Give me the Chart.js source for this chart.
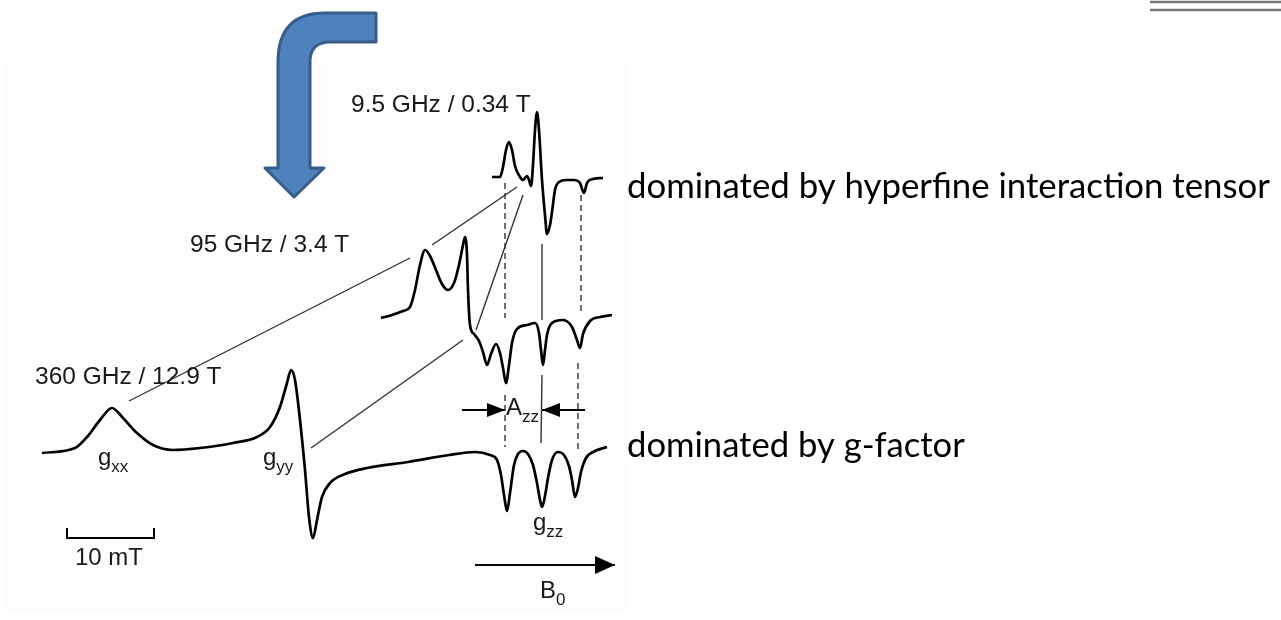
<!DOCTYPE html>
<html><head><meta charset="utf-8">
<script src="https://cdn.jsdelivr.net/npm/chart.js@4/dist/chart.umd.min.js"></script>
<style>html,body{margin:0;padding:0;background:#fff;overflow:hidden}canvas{display:block}</style>
</head><body>
<canvas id="c" width="1281" height="620"></canvas>
<script>
// ---- spectra (field position, signal position) ----
const field360 = [42,75,87,100,112,123,137,153,173,200,233,257,270,280,287,291,295,300,305,309,313,317,322,330,345,367,408,449,475,490,497,501,504,507,510,514,518,523,528,533,537,540,542,545,548,552,558,564,569,572,575,578,581,586,593,607];
const signal360 = [453,448,437,420,408,418,433,445,450,448,443,437,427,407,383,370,380,420,470,517,538,520,497,483,474,468,462,455,452,455,460,475,495,511,493,465,454,451,454,465,483,500,507,496,478,460,452,455,466,480,497,488,472,458,452,447];

const field95 = [381,392,403,410,415,420,425,430,436,442,448,454,459,463,465,467,468,470,474,479,483,487,491,496,500,503,506,509,512,517,527,535,539,541,543,545,547,552,563,572,577,580,583,590,600,612];
const signal95 = [318,315,311,307,290,265,250,256,270,284,290,283,265,245,237,255,290,325,334,341,352,365,354,344,353,368,383,365,343,329,325,323,333,350,365,350,335,323,320,327,340,348,334,321,317,315];

const field9 = [492,500,503,506,509,512,515,520,523,527,529,531,533,535,537,539,542,545,547,550,552,555,559,566,574,580,584,587,593,603];
const signal9 = [177,177,167,150,142,150,166,177,180,176,180,186,165,130,112,130,180,215,234,225,212,190,182,180,180,183,193,183,179,178];

// ---- guide lines (pairs of points) ----
const connectorX = [[129,410],[432,517],[476,523],[311,463]];
const connectorY = [[401,258],[245,187],[330,195],[448,340]];
const dashedX = [[505,505],[505,505],[581,581],[578,578]];
const dashedY = [[183,318],[395,447],[195,315],[363,452]];
const solidX = [[542,542],[542,541]];
const solidY = [[244,320],[375,443]];
const arrowX = [[462,505],[585,542],[475,615]];
const arrowY = [[410,410],[410,410],[565,565]];
const scaleBarX = [67,67,154,154];
const scaleBarY = [528,538,538,528];

// ---- texts ----
const freqLabels = ['9.5 GHz / 0.34 T','95 GHz / 3.4 T','360 GHz / 12.9 T'];
const axisLabels = [['g','xx'],['g','yy'],['g','zz'],['A','zz'],['B','0'],['10 mT','']];
const notes = ['dominated by hyperfine interaction tensor','dominated by g-factor'];

// ---- layout (chart units) ----
const layout = {
  freqPos: [[351,112],[190,252],[35,384]],
  axisPos: [[98,465],[263,465],[533,530],[506,415],[540,598],[75,565]],
  notePos: [[627,198],[627,457]],
  noteWidth: [643,338],
  panel: [5,58,628,612],
  bentArrow: [['M',376,13],['L',376,42],['L',330,42],['Q',310,42,310,62],['L',310,168],['L',324,168],['L',294,197],['L',265,168],['L',278,168],['L',278,62],['Q',278,13,325,13],['Z']],
  heads: [[18,7],[18,7],[20,9]],
  corner: [[1150,2,1281,2],[1150,10,1281,10]]
};

const pts = (xs, ys) => xs.map((v,i)=>({x:v,y:ys[i]}));
const datasets = [];
const spec = {borderColor:'#000',borderWidth:2.7,pointRadius:0,showLine:true,cubicInterpolationMode:'monotone',fill:false};
datasets.push({...spec,label:'9.5 GHz',data:pts(field9,signal9)});
datasets.push({...spec,label:'95 GHz',data:pts(field95,signal95)});
datasets.push({...spec,label:'360 GHz',data:pts(field360,signal360)});
const thin = {borderColor:'#333',borderWidth:1.4,pointRadius:0,showLine:true,tension:0,fill:false};
connectorX.forEach((xs,i)=>datasets.push({...thin,label:'conn'+i,data:pts(xs,connectorY[i])}));
dashedX.forEach((xs,i)=>datasets.push({...thin,borderDash:[6,4],label:'dash'+i,data:pts(xs,dashedY[i])}));
solidX.forEach((xs,i)=>datasets.push({...thin,label:'solid'+i,data:pts(xs,solidY[i])}));
arrowX.forEach((xs,i)=>datasets.push({...thin,borderColor:'#000',borderWidth:2,label:'arrow'+i,data:pts(xs,arrowY[i])}));
datasets.push({...thin,borderColor:'#000',borderWidth:2,label:'scale',data:pts(scaleBarX,scaleBarY)});

const overlay = {
  id:'overlay',
  beforeDraw(chart){
    const {ctx, scales:{x,y}} = chart;
    ctx.save();
    ctx.fillStyle='#fff'; ctx.fillRect(0,0,chart.width,chart.height);
    const p = layout.panel;
    ctx.fillStyle='#fdfdfd';
    ctx.fillRect(x.getPixelForValue(p[0]),y.getPixelForValue(p[1]),x.getPixelForValue(p[2])-x.getPixelForValue(p[0]),y.getPixelForValue(p[3])-y.getPixelForValue(p[1]));
    ctx.strokeStyle='#777'; ctx.lineWidth=2.5;
    layout.corner.forEach(c=>{ctx.beginPath();ctx.moveTo(x.getPixelForValue(c[0]),y.getPixelForValue(c[1]));ctx.lineTo(x.getPixelForValue(c[2]),y.getPixelForValue(c[3]));ctx.stroke();});
    ctx.restore();
  },
  afterDatasetsDraw(chart){
    const {ctx, scales:{x,y}} = chart;
    const X = v=>x.getPixelForValue(v), Y = v=>y.getPixelForValue(v);
    ctx.save();
    arrowX.forEach((xs,i)=>{
      const x0=X(xs[0]),y0=Y(arrowY[i][0]),x1=X(xs[1]),y1=Y(arrowY[i][1]);
      const a=Math.atan2(y1-y0,x1-x0), [L,W]=layout.heads[i];
      ctx.fillStyle='#000';
      ctx.beginPath();
      ctx.moveTo(x1,y1);
      ctx.lineTo(x1-L*Math.cos(a)+W*Math.sin(a), y1-L*Math.sin(a)-W*Math.cos(a));
      ctx.lineTo(x1-L*Math.cos(a)-W*Math.sin(a), y1-L*Math.sin(a)+W*Math.cos(a));
      ctx.closePath(); ctx.fill();
    });
    ctx.beginPath();
    layout.bentArrow.forEach(c=>{
      if(c[0]==='M') ctx.moveTo(X(c[1]),Y(c[2]));
      else if(c[0]==='L') ctx.lineTo(X(c[1]),Y(c[2]));
      else if(c[0]==='Q') ctx.quadraticCurveTo(X(c[1]),Y(c[2]),X(c[3]),Y(c[4]));
      else ctx.closePath();
    });
    ctx.fillStyle='#4f81bd'; ctx.fill();
    ctx.strokeStyle='#385d8a'; ctx.lineWidth=3; ctx.lineJoin='round'; ctx.stroke();
    ctx.fillStyle='#1a1a1a'; ctx.textBaseline='alphabetic'; ctx.textAlign='left';
    ctx.font='24.5px "Liberation Sans", Arial, sans-serif';
    freqLabels.forEach((t,i)=>ctx.fillText(t,X(layout.freqPos[i][0]),Y(layout.freqPos[i][1])));
    axisLabels.forEach((t,i)=>{
      const [px,py]=layout.axisPos[i];
      ctx.font='24px "Liberation Sans", Arial, sans-serif';
      ctx.fillText(t[0],X(px),Y(py));
      const w=ctx.measureText(t[0]).width;
      if(t[1]){ctx.font='17px "Liberation Sans", Arial, sans-serif';ctx.fillText(t[1],X(px)+w,Y(py)+7);}
    });
    ctx.fillStyle='#000';
    notes.forEach((t,i)=>{
      ctx.font='30px Lato, "Open Sans", sans-serif';
      const w=ctx.measureText(t).width;
      const s=30*layout.noteWidth[i]/w;
      ctx.font=s.toFixed(2)+'px Lato, "Open Sans", sans-serif';
      ctx.fillText(t,X(layout.notePos[i][0]),Y(layout.notePos[i][1]));
    });
    ctx.restore();
  }
};

new Chart(document.getElementById('c'),{
  type:'scatter',
  data:{datasets},
  options:{
    responsive:false, animation:false, devicePixelRatio:1,
    layout:{padding:0},
    plugins:{legend:{display:false},tooltip:{enabled:false}},
    scales:{
      x:{type:'linear',min:0,max:1281,display:false},
      y:{type:'linear',min:0,max:620,reverse:true,display:false}
    }
  },
  plugins:[overlay]
});
</script>
</body></html>
